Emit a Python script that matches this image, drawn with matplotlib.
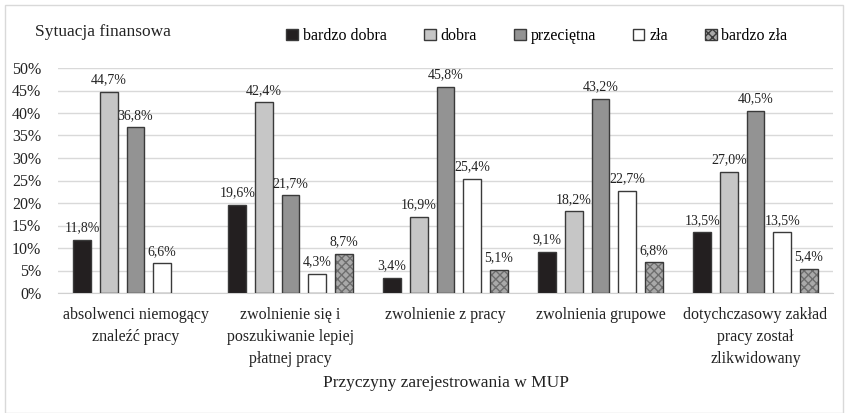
import numpy as np
import matplotlib.pyplot as plt
from matplotlib.patches import Rectangle

plt.rcParams['font.family'] = ['Liberation Serif', 'DejaVu Serif']

# Dane
kategorie = ['absolwenci niemogący\nznaleźć pracy',
             'zwolnienie się i\nposzukiwanie lepiej\npłatnej pracy',
             'zwolnienie z pracy',
             'zwolnienia grupowe',
             'dotychczasowy zakład\npracy został\nzlikwidowany']
serie = ['bardzo dobra', 'dobra', 'przeciętna', 'zła', 'bardzo zła']
bardzo_dobra = [11.8, 19.6, 3.4, 9.1, 13.5]
dobra = [44.7, 42.4, 16.9, 18.2, 27.0]
przecietna = [36.8, 21.7, 45.8, 43.2, 40.5]
zla = [6.6, 4.3, 25.4, 22.7, 13.5]
bardzo_zla = [0.0, 8.7, 5.1, 6.8, 5.4]

wartosci = [bardzo_dobra, dobra, przecietna, zla, bardzo_zla]
kolory = ['#231f20', '#c6c6c6', '#939393', '#ffffff', '#a9a9a9']

fig = plt.figure(figsize=(8.47, 4.13), dpi=100)
ax = fig.add_axes([58 / 847, 1 - 293 / 413, 775 / 847, 225 / 413])

x = np.arange(len(kategorie))
szer = 0.116
krok = 0.172
handles = []
for i, (nazwa, vals, kol) in enumerate(zip(serie, wartosci, kolory)):
    pos = x + (i - 2) * krok
    vals = np.array(vals) / 100
    lw = [1 if v > 0 else 0 for v in vals]  # bez krawędzi dla zera
    if nazwa == 'bardzo zła':
        ax.bar(pos, vals, szer, color=kol, edgecolor='#6e6e6e', hatch='xxxx',
               linewidth=0, zorder=3)
        ax.bar(pos, vals, szer, color='none', edgecolor='#3a3a3a',
               linewidth=lw, zorder=4)
        h = Rectangle((0, 0), 1, 1, facecolor=kol, edgecolor='#3a3a3a',
                      hatch='xxxx', linewidth=1)
    else:
        ax.bar(pos, vals, szer, color=kol, edgecolor='#3a3a3a',
               linewidth=lw, zorder=3)
        h = Rectangle((0, 0), 1, 1, facecolor=kol, edgecolor='#3a3a3a', linewidth=1)
    handles.append(h)
    for p, v in zip(pos, vals):
        if v > 0:
            ax.text(p, v + 0.012, f'{v * 100:.1f}%'.replace('.', ','),
                    ha='center', va='bottom', fontsize=10, color='#222222')

ax.set_ylim(0, 0.5)
ax.set_xlim(-0.5, len(kategorie) - 0.5)
ax.set_yticks(np.arange(0, 0.51, 0.05))
ax.set_yticklabels([f'{int(round(t * 100))}%' for t in np.arange(0, 0.51, 0.05)])
ax.set_xticks(x)
ax.set_xticklabels(kategorie, fontsize=11.5, linespacing=1.5)
ax.tick_params(axis='both', length=0, labelsize=11.5, colors='#222222')
ax.tick_params(axis='x', pad=10)
ax.tick_params(axis='y', pad=12)
ax.grid(axis='y', color='#d9d9d9', linewidth=1, zorder=0)
for s in ['top', 'right', 'left']:
    ax.spines[s].set_visible(False)
ax.spines['bottom'].set_color('#d0d0d0')
ax.set_axisbelow(True)

ax.set_xlabel('Przyczyny zarejestrowania w MUP', fontsize=12.5, labelpad=6,
              color='#222222')

fig.text(35 / 847, 1 - 32 / 413, 'Sytuacja finansowa', fontsize=12.5,
         va='center', color='#222222')
fig.legend(handles, serie, loc='center left', bbox_to_anchor=(272 / 847, 1 - 36 / 413),
           ncol=5, frameon=False, fontsize=11.5, handlelength=0.75, handleheight=0.75,
           handletextpad=0.3, columnspacing=2.3)

fig.patches.append(Rectangle((5 / 847, 0), 838 / 847, 408 / 413, transform=fig.transFigure,
                             fill=False, edgecolor='#d9d9d9', linewidth=1))

fig.savefig('out.png', dpi=100)
